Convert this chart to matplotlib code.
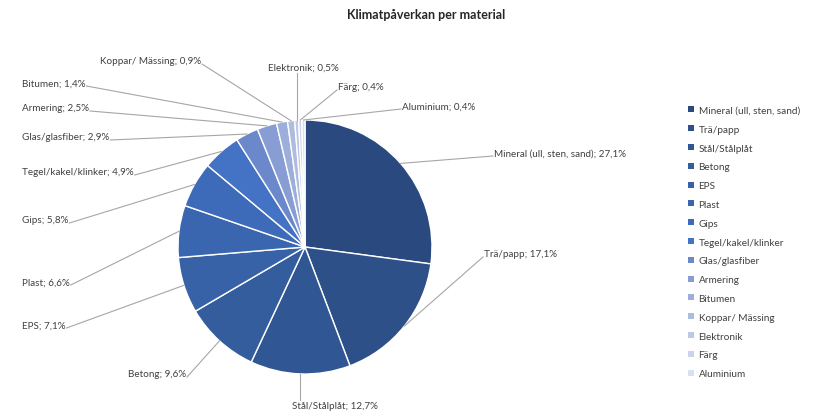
import matplotlib
matplotlib.use("Agg")
import matplotlib.pyplot as plt
from matplotlib.patches import Patch
import numpy as np

plt.rcParams['font.family'] = ['Lato', 'DejaVu Sans']

# Data, clockwise from 12 o'clock
materials = ['Mineral (ull, sten, sand)', 'Trä/papp', 'Stål/Stålplåt', 'Betong', 'EPS',
             'Plast', 'Gips', 'Tegel/kakel/klinker', 'Glas/glasfiber', 'Armering',
             'Bitumen', 'Koppar/ Mässing', 'Elektronik', 'Färg', 'Aluminium']
shares = [27.1, 17.1, 12.7, 9.6, 7.1, 6.6, 5.8, 4.9, 2.9, 2.5, 1.4, 0.9, 0.5, 0.4, 0.4]

colors = ['#2a4a7f', '#2d5089', '#305793', '#345d9d', '#3762a7', '#3a66b0', '#3e6bb9',
          '#4472c4', '#6b88cb', '#879dd3', '#9caed9', '#adbcdf', '#bcc8e5', '#cad3eb',
          '#d9e0f1']

# label layout in pixels: (x, y, ha)
label_pos = [(494, 154, 'left'), (484, 255, 'left'), (335, 407, 'center'),
             (186, 375, 'right'), (22, 326, 'left'), (22, 283, 'left'),
             (22, 221, 'left'), (22, 173, 'left'), (22, 138, 'left'),
             (22, 109, 'left'), (22, 84, 'left'), (201, 62, 'right'),
             (303, 68, 'center'), (338, 88, 'left'), (402, 107, 'left')]

W, H = 813, 414
fig = plt.figure(figsize=(W / 100, H / 100), dpi=100)
ax = fig.add_axes([0, 0, 1, 1])

cx, cy, r = 305, 248, 127
wedges, _ = ax.pie(shares, colors=colors, center=(cx, cy), radius=r,
                   startangle=-90, counterclock=True,
                   wedgeprops=dict(edgecolor='white', linewidth=1.0))
ax.set_xlim(0, W)
ax.set_ylim(H, 0)
ax.set_aspect('equal')
ax.axis('off')

fig.text(426 / W, 1 - 15 / H, 'Klimatpåverkan per material', ha='center', va='center',
         fontsize=9, fontweight='bold', color='#262626')

texts = []
for name, val, (x, y, ha) in zip(materials, shares, label_pos):
    s = f"{name}; {val:.1f}%".replace('.', ',')
    t = ax.text(x, y, s, ha=ha, va='center', fontsize=7.1, color='#404040')
    texts.append(t)

fig.canvas.draw()
inv = ax.transData.inverted()
for w, t, (x, y, ha) in zip(wedges, texts, label_pos):
    mid = np.deg2rad((w.theta1 + w.theta2) / 2)
    ax0 = cx + r * np.cos(mid)
    ay0 = cy + r * np.sin(mid)
    bb = t.get_window_extent()
    (x0, y1), (x1, y0) = inv.transform([[bb.x0, bb.y0], [bb.x1, bb.y1]])
    if ha == 'center':
        ey = y0 - 1 if y > cy else y1 + 1
        ax.plot([ax0, ax0], [ay0, ey], color='#a6a6a6', lw=0.8)
        continue
    ex = x0 - 1 if ax0 < x0 else x1 + 1
    ax.plot([ax0, ex], [ay0, y + 3], color='#a6a6a6', lw=0.8)

handles = [Patch(facecolor=c, edgecolor='none') for c in colors]
fig.legend(handles, materials, loc='upper left', bbox_to_anchor=(688 / W, 1 - 107 / H),
           frameon=False, fontsize=7.2, handlelength=0.55, handleheight=0.55,
           handletextpad=0.5, labelspacing=0.98, borderaxespad=0, borderpad=0,
           labelcolor='#404040')

fig.savefig('out.png', dpi=100)
